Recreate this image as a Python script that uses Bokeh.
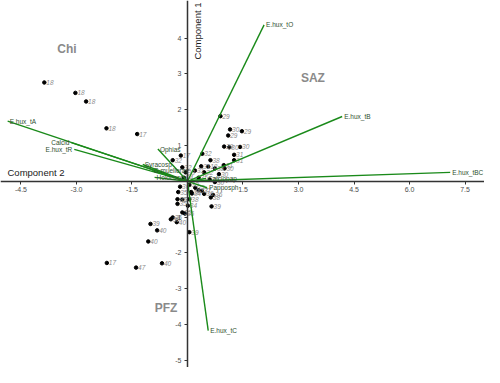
import numpy as np
from bokeh.plotting import figure
from bokeh.models import ColumnDataSource, FixedTicker, PrintfTickFormatter, Range1d
from bokeh.embed import file_html
from bokeh.resources import INLINE
from bokeh.core.properties import value

# ---- sample scores (Component 2 on x, Component 1 on y) ----
score_pc2 = [-3.87, -3.03, -2.74, -2.19, -1.36,
             0.89, 1.47, 1.10, 1.15, 0.99, 1.13, 1.42, 1.26, 1.26,
             0.40, 0.62, -0.18, -0.40, -0.14, 0.37, 0.56, 0.98, 1.00, 0.74,
             0.20, 0.45, 0.85, 0.30, 0.60, 0.74, -0.05, -0.10,
             0.05, -0.20, -0.25, 0.10, 0.30, 0.45, -0.27, -0.27, -0.14, 0.05,
             0.01, 0.69, 0.63, 0.65, -0.07, -0.14, -0.40, -0.45, -0.29,
             -1.00, -0.82, 0.05, -1.06, -2.18, -1.39, -0.69,
             0.21, 0.12, 0.39]
score_pc1 = [2.76, 2.47, 2.23, 1.48, 1.32,
             1.82, 1.40, 1.28, 1.45, 0.97, 0.95, 0.96, 0.74, 0.59,
             0.77, 0.59, 0.72, 0.59, 0.39, 0.42, 0.41, 0.45, 0.36, 0.36,
             0.30, 0.25, 0.20, 0.10, 0.05, -0.02, 0.25, 0.10,
             -0.10, -0.15, -0.30, -0.30, -0.25, -0.35, -0.50, -0.63, -0.51, -0.50,
             -0.68, -0.38, -0.45, -0.70, -0.90, -0.87, -1.01, -1.06, -1.14,
             -1.19, -1.37, -1.42, -1.68, -2.28, -2.41, -2.29,
             -0.18, -0.34, -0.27]
score_labels = ["18", "18", "18", "18", "17",
                "29", "29", "29", "30", "29", "30", "30", "31", "31",
                "32", "38", "17", "32", "32", "31", "18", "31", "30", "38",
                "31", "32", "30", "35", "30", "30", "33", "34",
                "33", "36", "35", "36", "37", "36", "35", "35", "37", "38",
                "34", "36", "38", "39", "36", "35", "36", "38", "40",
                "39", "40", "39", "40", "17", "47", "40",
                "35", "34", "37"]

# ---- variable loadings (arrow tips) ----
load_names = ["E.hux_tO", "E.hux_tB", "E.hux_tBC", "E.hux_tC", "E.hux_tA",
              "Calcid", "E.hux_tR", "Ophias", "Syracosp", "G.muellerae",
              "Holococco", "Calciopap", "Papposph"]
load_pc2 = [2.07, 4.18, 7.10, 0.56, -4.86,
            -3.14, -3.06, -0.80, -1.21, -0.97,
            -0.89, 0.50, 0.53]
load_pc1 = [4.37, 1.81, 0.25, -4.17, 1.68,
            1.08, 0.89, 0.90, 0.47, 0.30,
            0.11, 0.08, -0.18]
load_side = ["left", "left", "left", "left", "left",
             "right", "right", "left", "left", "left",
             "left", "left", "left"]

x_ticks = [-4.5, -3.0, -1.5, 1.5, 3.0, 4.5, 6.0, 7.5]
y_ticks = [-5, -4, -3, -2, -1, 1, 2, 3, 4]

regions = ["Chi", "SAZ", "PFZ"]
region_pc2 = [-3.26, 3.39, -0.58]
region_pc1 = [3.70, 2.89, -3.54]

W, H = 484, 367
X0, X1 = -5.054, 8.027
Y0, Y1 = -5.2, 5.05
PX = (X1 - X0) / W
PY = (Y1 - Y0) / H

FONT = "Liberation Sans"

p = figure(width=W, height=H, x_range=Range1d(X0, X1), y_range=Range1d(Y0, Y1),
           output_backend="svg", toolbar_location=None, min_border=0)
p.grid.visible = False
p.outline_line_color = None
p.background_fill_color = "white"
p.border_fill_color = "white"

p.xaxis.fixed_location = 0
p.yaxis.fixed_location = 0
p.xaxis.ticker = FixedTicker(ticks=x_ticks)
p.yaxis.ticker = FixedTicker(ticks=y_ticks)
p.xaxis.formatter = PrintfTickFormatter(format="%.1f")
p.yaxis.formatter = PrintfTickFormatter(format="%d")
for ax in (p.xaxis, p.yaxis):
    ax.axis_line_color = "#333333"
    ax.axis_line_width = 1.5
    ax.major_tick_line_color = "#333333"
    ax.major_tick_out = 3
    ax.major_tick_in = 0
    ax.minor_tick_line_color = None
    ax.major_label_text_font_size = "7px"
    ax.major_label_text_color = "#4d4d4d"
    ax.major_label_text_font = FONT
    ax.major_label_standoff = 3

# region labels
p.text(x=region_pc2, y=region_pc1, text=regions, text_font=value(FONT),
       text_font_size="12px", text_font_style="bold", text_color="#8a8a8a",
       text_align="center", text_baseline="middle")

# sample points
src = ColumnDataSource(dict(x=score_pc2, y=score_pc1, lab=score_labels))
p.scatter("x", "y", source=src, size=3.5, color="black")
p.text("x", "y", text="lab", source=src, x_offset=2, text_font=value(FONT),
       text_font_size="6.5px", text_font_style="italic", text_color="#8c8c8c",
       text_align="left", text_baseline="middle")

# loading arrows
zeros = [0.0] * len(load_pc2)
p.segment(x0=zeros, y0=zeros, x1=load_pc2, y1=load_pc1,
          line_color="#1a8a1a", line_width=1.4)
for side, off in (("left", 2), ("right", -2)):
    idx = [i for i, s in enumerate(load_side) if s == side]
    p.text(x=[load_pc2[i] for i in idx], y=[load_pc1[i] for i in idx],
           text=[load_names[i] for i in idx], x_offset=off,
           text_font=value(FONT), text_font_size="6.5px", text_color="#2f4f2f",
           text_align=side, text_baseline="middle")

# axis titles
p.text(x=[X0 + 7 * PX], y=[3 * PY], text=["Component 2"], text_font=value(FONT),
       text_font_size="9.5px", text_color="#1a1a1a", text_align="left",
       text_baseline="bottom")
p.text(x=[5 * PX], y=[Y1 - 2 * PY], text=["Component 1"], text_font=value(FONT),
       text_font_size="9.5px", text_color="#1a1a1a", text_align="right",
       text_baseline="top", angle=np.pi / 2)

open("out.html", "w").write(file_html(p, INLINE))
